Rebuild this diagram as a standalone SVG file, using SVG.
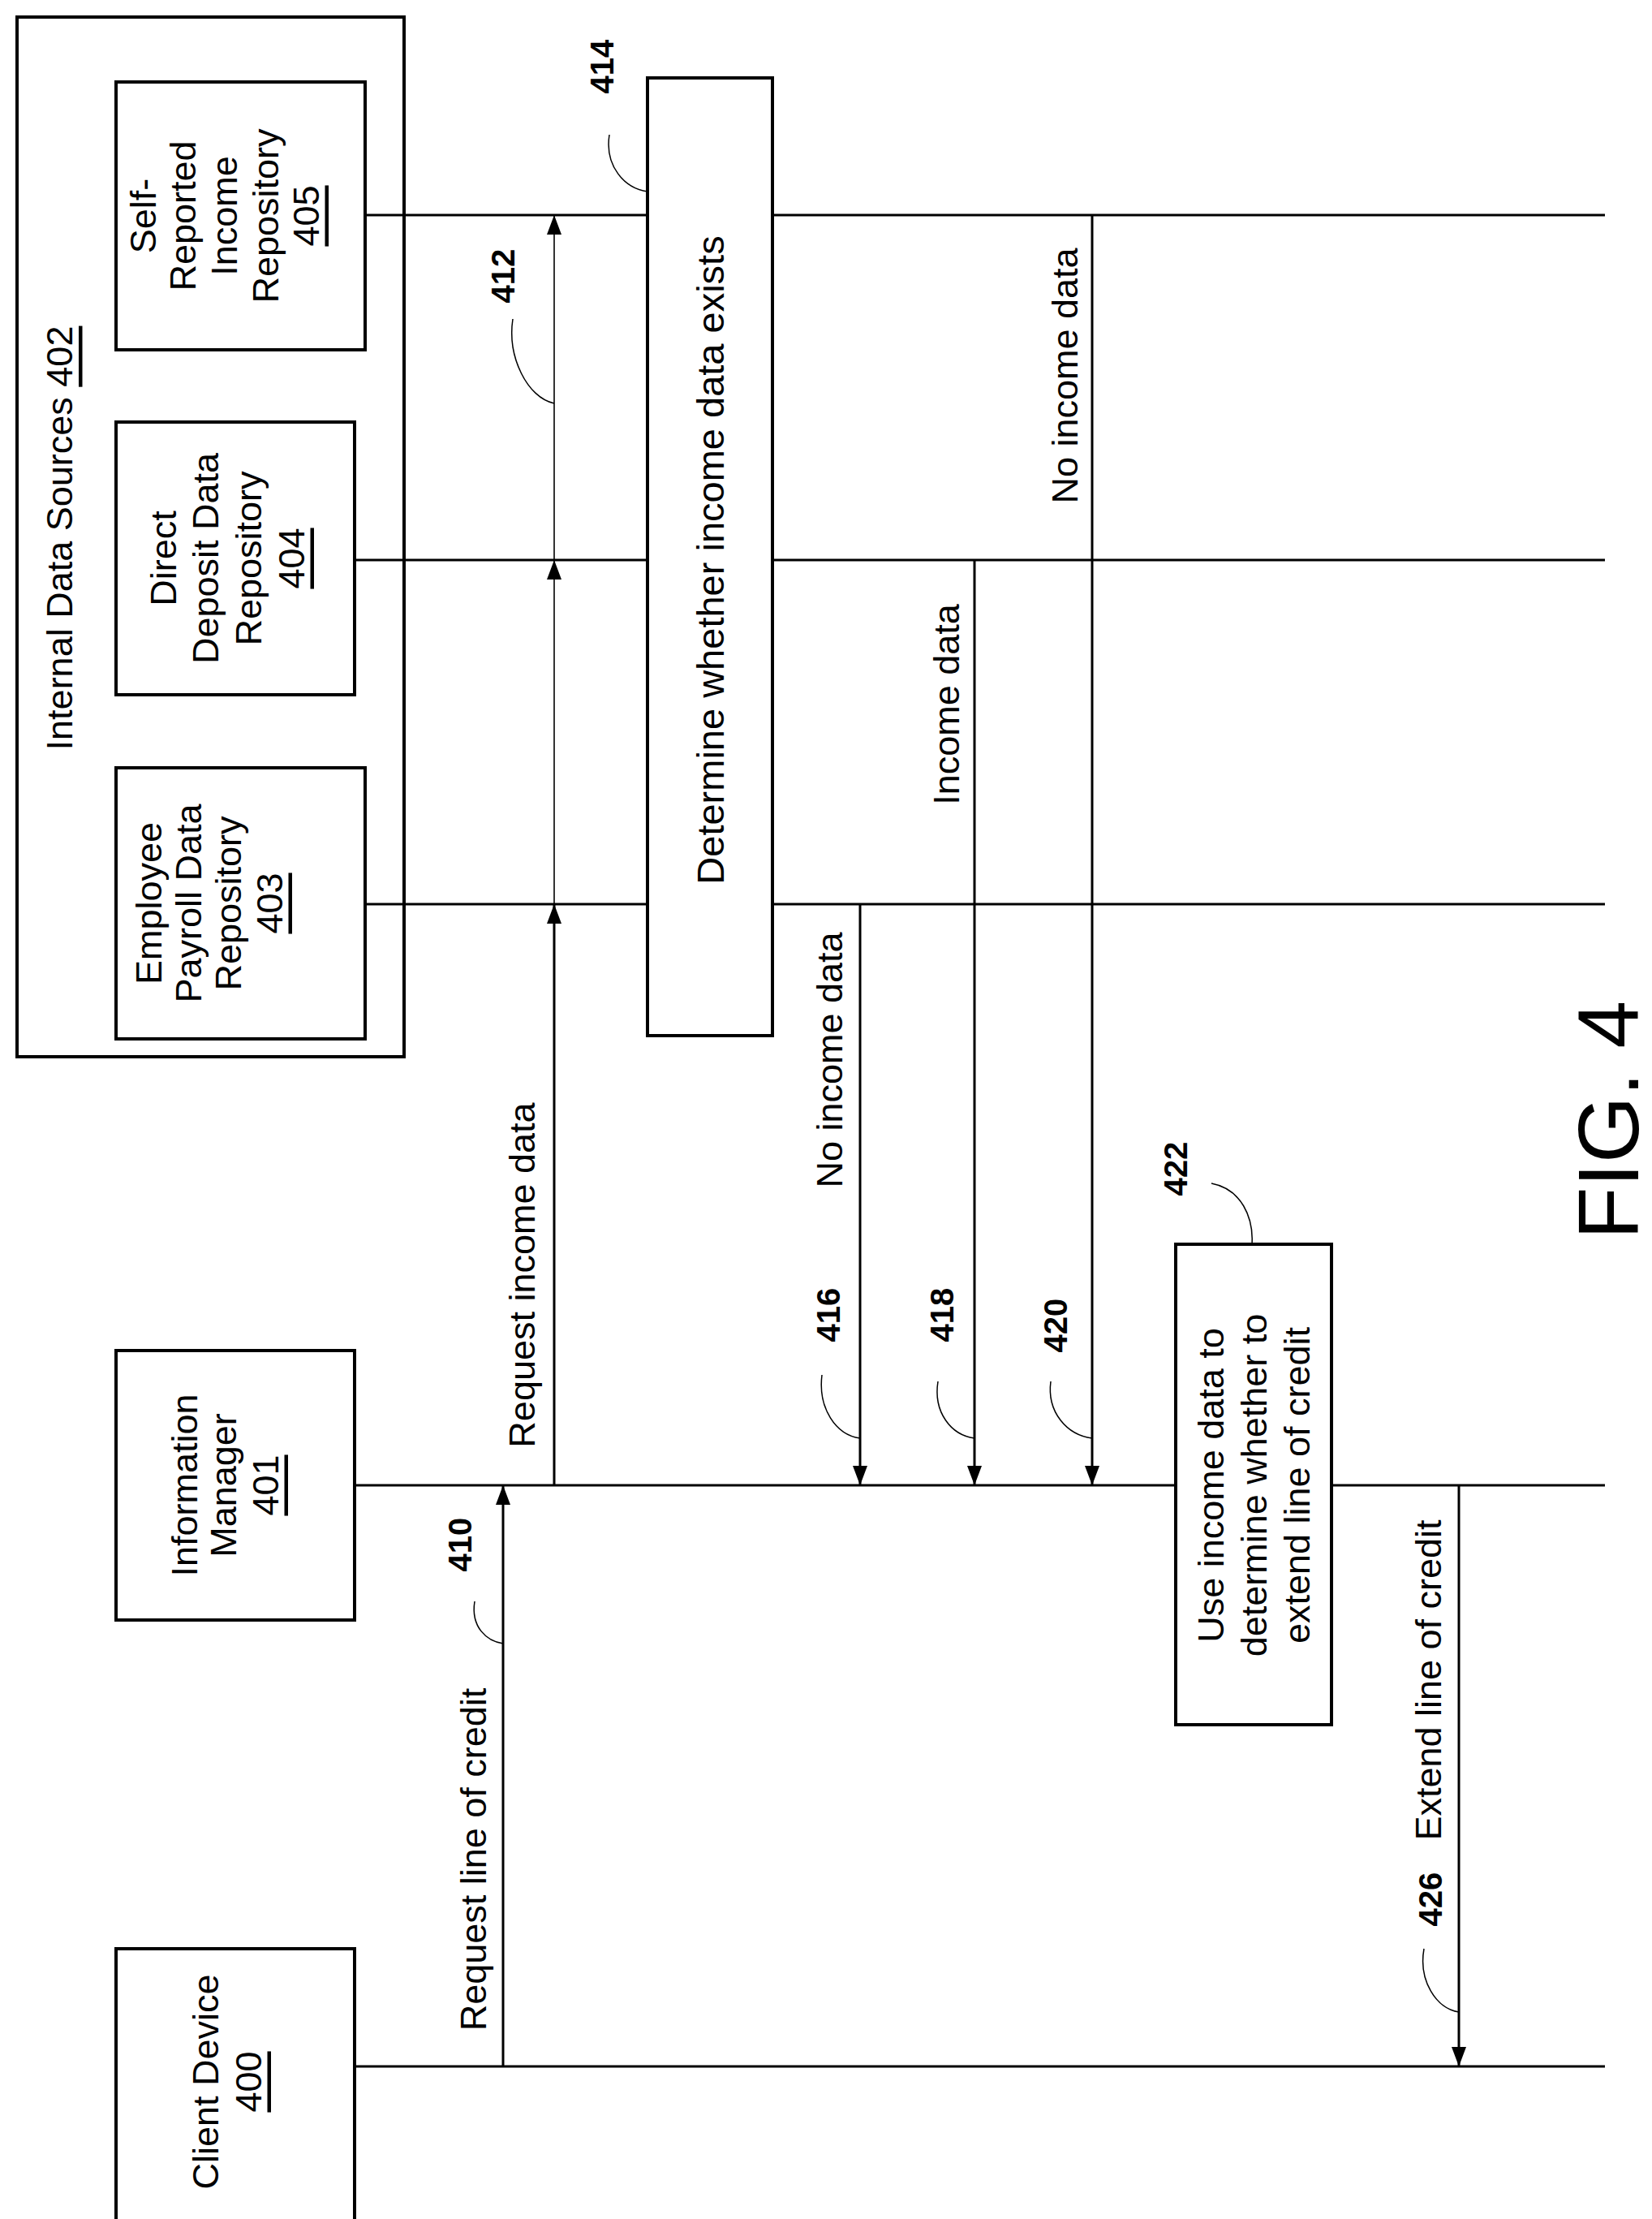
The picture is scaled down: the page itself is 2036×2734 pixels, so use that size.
<svg xmlns="http://www.w3.org/2000/svg" width="2036" height="2734" viewBox="0 0 2036 2734">
<defs>
<marker id="ah" viewBox="0 0 10 10" refX="10" refY="5" markerWidth="24" markerHeight="18" markerUnits="userSpaceOnUse" orient="auto" preserveAspectRatio="none"><path d="M0,0 L10,5 L0,10 z" fill="#000"/></marker>
<style>
text{font-family:"Liberation Sans",Arial,sans-serif;font-size:45px;fill:#000;text-anchor:middle;dominant-baseline:central}
.b{font-weight:bold;font-size:40px}
.box{fill:#fff;stroke:#000;stroke-width:4}
.l{stroke:#000;stroke-width:3;fill:none}
.t{stroke:#000;stroke-width:1.6;fill:none}
.c{stroke:#000;stroke-width:1.5;fill:none}
.u{text-decoration:underline}
</style>
</defs>
<rect width="2036" height="2734" fill="#fff"/>
<g id="internal-data-sources">
<rect class="box" x="21" y="21" width="477" height="1281"/>
<text transform="translate(73,663) rotate(-90)">Internal Data Sources <tspan class="u">402</tspan></text>
</g>
<g id="self-reported">
<rect class="box" x="143" y="101" width="307" height="330"/>
<text transform="translate(176,266) rotate(-90)">Self-</text>
<text transform="translate(225,266) rotate(-90)">Reported</text>
<text transform="translate(276,266) rotate(-90)">Income</text>
<text transform="translate(327,266) rotate(-90)">Repository</text>
<text class="u" transform="translate(377,266) rotate(-90)">405</text>
</g>
<g id="direct-deposit">
<rect class="box" x="143" y="520" width="294" height="336"/>
<text transform="translate(201,688) rotate(-90)">Direct</text>
<text transform="translate(253,688) rotate(-90)">Deposit Data</text>
<text transform="translate(306,688) rotate(-90)">Repository</text>
<text class="u" transform="translate(359,688) rotate(-90)">404</text>
</g>
<g id="employee-payroll">
<rect class="box" x="143" y="946" width="307" height="334"/>
<text transform="translate(183,1113) rotate(-90)">Employee</text>
<text transform="translate(232,1113) rotate(-90)">Payroll Data</text>
<text transform="translate(281,1113) rotate(-90)">Repository</text>
<text class="u" transform="translate(332,1113) rotate(-90)">403</text>
</g>
<g id="information-manager">
<rect class="box" x="143" y="1664" width="294" height="332"/>
<text transform="translate(227,1830) rotate(-90)">Information</text>
<text transform="translate(275,1830) rotate(-90)">Manager</text>
<text class="u" transform="translate(327,1830) rotate(-90)">401</text>
</g>
<g id="client-device">
<rect class="box" x="143" y="2401" width="294" height="340"/>
<text transform="translate(253,2565) rotate(-90)">Client Device</text>
<text class="u" transform="translate(306,2565) rotate(-90)">400</text>
</g>
<g id="determine">
<rect class="box" x="798" y="96" width="154" height="1180"/>
<text style="font-size:47px" transform="translate(875,690) rotate(-90)">Determine whether income data exists</text>
</g>
<g id="use-income">
<rect class="box" x="1449" y="1533" width="192" height="592"/>
<text transform="translate(1492,1830) rotate(-90)">Use income data to</text>
<text transform="translate(1545,1830) rotate(-90)">determine whether to</text>
<text transform="translate(1598,1830) rotate(-90)">extend line of credit</text>
</g>
<g id="connectors">
<path class="l" d="M450,265H798M952,265H1978M437,690H798M952,690H1978M450,1114H798M952,1114H1978M437,1830H1449M1641,1830H1978M437,2546H1978"/>
<path class="l" d="M620,2546V1830" marker-end="url(#ah)"/>
<path class="l" d="M683,1830V1114" marker-end="url(#ah)"/>
<path class="t" d="M683,1114V690" marker-end="url(#ah)"/>
<path class="t" d="M683,690V265" marker-end="url(#ah)"/>
<path class="l" d="M1060,1114V1830" marker-end="url(#ah)"/>
<path class="l" d="M1201,690V1830" marker-end="url(#ah)"/>
<path class="l" d="M1346,265V1830" marker-end="url(#ah)"/>
<path class="l" d="M1798,1830V2546" marker-end="url(#ah)"/>
<path class="c" d="M585,1973C580,2005 600,2022 620,2025"/>
<path class="c" d="M632,393C625,440 650,490 683,497"/>
<path class="c" d="M751,166C745,205 770,232 798,236"/>
<path class="c" d="M1013,1694C1008,1735 1030,1768 1060,1772"/>
<path class="c" d="M1156,1702C1150,1740 1172,1768 1201,1772"/>
<path class="c" d="M1295,1702C1290,1740 1315,1768 1346,1772"/>
<path class="c" d="M1493,1458C1530,1465 1545,1500 1543,1533"/>
<path class="c" d="M1755,2401C1748,2440 1770,2475 1798,2479"/>
</g>
<g id="labels">
<text transform="translate(643,1571) rotate(-90)">Request income data</text>
<text transform="translate(583,2291) rotate(-90)">Request line of credit</text>
<text transform="translate(1022,1306) rotate(-90)">No income data</text>
<text transform="translate(1166,868) rotate(-90)">Income data</text>
<text transform="translate(1312,463) rotate(-90)">No income data</text>
<text transform="translate(1760,2070) rotate(-90)">Extend line of credit</text>
<text class="b" transform="translate(567,1903) rotate(-90)">410</text>
<text class="b" transform="translate(620,340) rotate(-90)">412</text>
<text class="b" transform="translate(742,82) rotate(-90)">414</text>
<text class="b" transform="translate(1021,1620) rotate(-90)">416</text>
<text class="b" transform="translate(1161,1620) rotate(-90)">418</text>
<text class="b" transform="translate(1301,1633) rotate(-90)">420</text>
<text class="b" transform="translate(1449,1440) rotate(-90)">422</text>
<text class="b" transform="translate(1763,2340) rotate(-90)">426</text>
<text style="font-size:106px" transform="translate(1982,1380) rotate(-90)">FIG. 4</text>
</g>
</svg>
